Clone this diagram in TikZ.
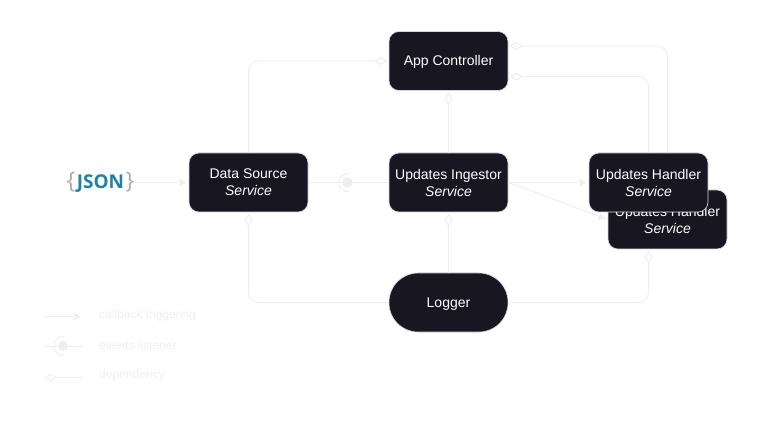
\documentclass[tikz,border=0pt]{standalone}
\usepackage{fontspec}
\setmainfont{Liberation Sans}
\newfontfamily\jsonfont{Open Sans}
\usetikzlibrary{arrows.meta}

\definecolor{boxfill}{HTML}{181620}
\definecolor{boxedge}{HTML}{D8D8DC}
\definecolor{faint}{HTML}{EEEEEE}
\definecolor{jsonteal}{HTML}{1F82A0}
\definecolor{jsonbrace}{HTML}{ABABAB}

\tikzset{
    service/.style={draw=boxedge,line width=0.6pt,fill=boxfill,text=white,rounded corners=10pt,
        minimum width=119pt,minimum height=59pt,inner sep=0pt,align=center,
        font=\fontsize{14}{17}\selectfont},
    twoline/.style={service,text depth=-2pt},
    oneline/.style={service,text height=13pt,text depth=3pt},
    pill/.style={oneline,rounded corners=29pt},
    link/.style={draw=faint,line width=1pt,rounded corners=10pt},
    callback/.style={link,-{Stealth[length=8pt,width=8pt,inset=2pt,fill=faint]},shorten >=2pt},
    dependency/.style={link,{Diamond[open,length=13pt,width=8pt,fill=white]}-,shorten <=1.5pt},
    listendot/.style={circle,fill=faint,inner sep=0pt,minimum size=10.5pt},
    listenarc/.style={draw=faint,line width=1pt},
    legendtext/.style={text=faint,anchor=west,inner sep=0pt,font=\fontsize{12}{14}\selectfont}
}

\begin{document}
\begin{tikzpicture}[x=1pt,y=-1pt]
    \useasboundingbox (0,0) rectangle (758,422);

    \node[oneline] (appcontroller) at (448.5,61) {App Controller};
    \node[twoline] (datasource) at (248.5,182.5) {Data Source\\\textit{Service}};
    \node[twoline] (ingestor) at (448.5,182.5) {Updates Ingestor\\\textit{Service}};
    \node[twoline] (handlerback) at (667.5,219.5) {Updates Handler\\\textit{Service}};
    \node[pill] (logger) at (448.5,302.5) {Logger};
    \node[inner sep=0pt] (json) at (100.5,182) {\jsonfont\fontsize{19}{22}\selectfont
        {\color{jsonbrace}\fontsize{23}{24}\selectfont\{}\kern1.5pt{\bfseries\color{jsonteal}JSON}\kern1.5pt{\color{jsonbrace}\fontsize{23}{24}\selectfont\}}};
    \node[listendot] (eventdot) at (347.5,182.5) {};

    \draw[dependency] ([yshift=15pt]appcontroller.east) -| (handlerback.north);

    \node[twoline] (handlerfront) at (648.5,182.5) {Updates Handler\\\textit{Service}};

    \draw[callback] (json.east |- datasource.west) -- (datasource.west);
    \draw[link] (datasource.east) -- (eventdot);
    \draw[link] (eventdot) -- (ingestor.west);
    \draw[listenarc] (eventdot.center) ++(80:9) arc (80:280:9);
    \draw[callback] (ingestor.east) -- (handlerfront.west);
    \draw[callback] (ingestor.east) -- (handlerback.west);

    \draw[dependency] (appcontroller.west) -| (datasource.north);
    \draw[dependency] ([yshift=-15.5pt]appcontroller.east) -| (handlerfront.north);
    \draw[dependency] (appcontroller.south) -- (ingestor.north);
    \draw[dependency] (ingestor.south) -- (logger.north);
    \draw[dependency] (datasource.south) |- (logger.west);
    \draw[dependency] ([xshift=-19pt]handlerback.south) |- (logger.east);

    \coordinate (callbackstart) at (44,316.5);
    \coordinate (callbackend) at (83,316.5);
    \coordinate (listenstart) at (44,346);
    \coordinate (listenend) at (83,346);
    \coordinate (depstart) at (44,377.5);
    \coordinate (depend) at (83,377.5);

    \draw[callback] (callbackstart) -- (callbackend);
    \node[listendot,minimum size=10pt] (legenddot) at (63,346) {};
    \draw[link] (listenstart) -- (legenddot) -- (listenend);
    \draw[listenarc] (legenddot.center) ++(80:9.5) arc (80:280:9.5);
    \draw[dependency,shorten <=0pt] (depstart) -- (depend);

    \node[legendtext] (callbacktext) at (99,315) {callback triggering};
    \node[legendtext] (listentext) at (99,345) {events listener};
    \node[legendtext] (deptext) at (99,375) {dependency};
\end{tikzpicture}
\end{document}
